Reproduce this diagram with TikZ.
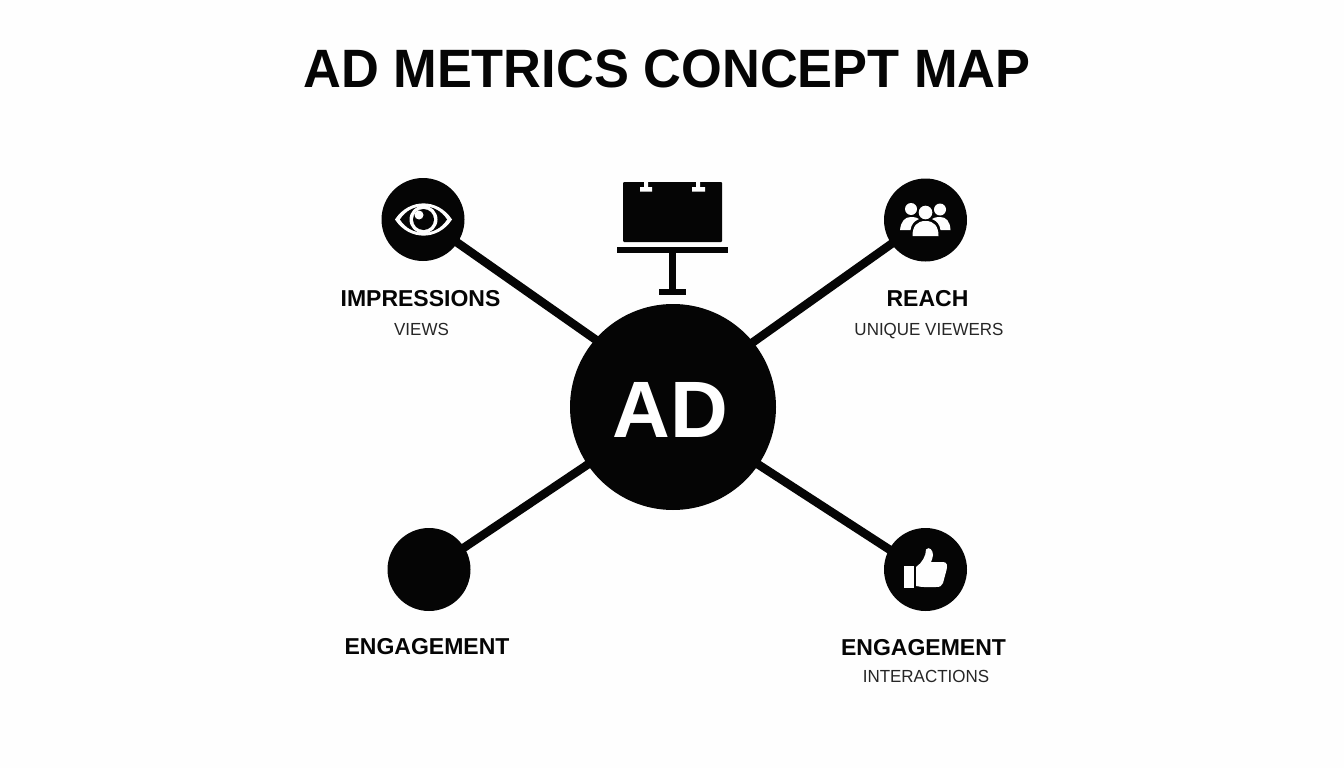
\documentclass[tikz,border=0pt]{standalone}
\usepackage{fontspec}
\setmainfont{Liberation Sans}
\newfontfamily\titlefont[FakeStretch=0.97]{Liberation Sans}
\definecolor{paper}{HTML}{FEFEFE}
\definecolor{ink}{HTML}{050505}
\definecolor{subink}{HTML}{262626}
\tikzset{
  hub/.style={circle,fill=ink,inner sep=0pt,minimum size=206pt},
  metric/.style={circle,fill=ink,inner sep=0pt,minimum size=83pt},
  link/.style={draw=ink,line width=8.5pt,shorten <=-2pt,shorten >=-2pt},
  head/.style={font=\bfseries\fontsize{23}{28}\selectfont,text=ink,inner sep=0pt,anchor=base},
  sub/.style={font=\titlefont\fontsize{17.5}{22}\selectfont,text=subink,inner sep=0pt,anchor=base},
  icon/.style={fill=paper,draw=none},
  solid ink/.style={fill=ink,draw=none}
}
\begin{document}
\begin{tikzpicture}[x=1pt,y=-1pt]
\useasboundingbox (0,0) rectangle (1344,768);
\fill[paper] (0,0) rectangle (1344,768);
\node[font=\titlefont\bfseries\fontsize{54}{60}\selectfont,text=ink,inner sep=0pt,anchor=base] (title) at (667,88) {AD METRICS CONCEPT MAP};
% hub and metric discs
\node[hub] (ad) at (673,407) {};
\node[metric] (imp) at (423,219.5) {};
\node[metric] (rch) at (925.5,220) {};
\node[metric] (eng) at (429,569.5) {};
\node[metric] (int) at (925.5,569.5) {};
\node[font=\bfseries\fontsize{80}{90}\selectfont,text=white,inner sep=0pt,anchor=base] (adtext) at (670.5,437) {AD};
% connectors
\draw[link] (imp.-34) -- (ad.139);
\draw[link] (rch.215) -- (ad.39);
\draw[link] (eng.32) -- (ad.214);
\draw[link] (int.151) -- (ad.-34);
% billboard
\fill[solid ink,rounded corners=1pt] (623,182) rectangle (722,242);
\fill[icon] (644,181) rectangle (648,188) (640,187) rectangle (652,191.5);
\fill[icon] (696,181) rectangle (700,188) (692,187) rectangle (705,191.5);
\fill[solid ink] (616.5,247) rectangle (728,252.5);
\fill[solid ink] (668.5,252) rectangle (676,290);
\fill[solid ink] (659,288.5) rectangle (686,294.5);
% eye
\fill[icon] (395,219.5) .. controls (409,198) and (438,198) .. (452,219.5) .. controls (438,241) and (409,241) .. (395,219.5) -- cycle;
\fill[solid ink] (400,219.5) .. controls (411,202) and (436,202) .. (447,219.5) .. controls (436,237) and (411,237) .. (400,219.5) -- cycle;
\fill[icon] (423.5,219.5) circle[radius=14];
\fill[solid ink] (423.5,219.5) circle[radius=10.5];
\fill[icon] (419,215) circle[radius=4.5];
% people
\fill[icon] (911,209) circle[radius=6];
\fill[icon] (940,209.5) circle[radius=6];
\fill[icon] (900,230) .. controls (901,221) and (905,217) .. (911,217) .. controls (915,217) and (918,218) .. (919,219) .. controls (914,221) and (911,225) .. (910.5,230) -- cycle;
\fill[icon] (950.5,230) .. controls (950,221) and (946,217) .. (940,217) .. controls (936,217) and (933,218) .. (932,219) .. controls (937,221) and (940,225) .. (940.5,230) -- cycle;
\fill[solid ink] (925.5,212.5) circle[radius=8.2];
\fill[icon] (925.5,212.5) circle[radius=6.8];
\fill[icon] (912.5,236) .. controls (912.5,226) and (917,221) .. (925.5,221) .. controls (934,221) and (938.5,226) .. (938.5,236) -- cycle;
% thumb
\fill[icon] (904,566) rectangle (913.5,588);
\fill[icon] (916,567) .. controls (922,563) and (926,556) .. (926,549.5) .. controls (929,546) and (933,550) .. (933,555) .. controls (933,558) and (931.5,560) .. (931,562) -- (943,562) .. controls (947.5,562) and (947.5,566) .. (946.5,570) -- (943,583) .. controls (942,586) and (940,587) .. (936,587) -- (924,587) .. controls (920,587) and (918,586) .. (916,586) -- cycle;
% labels
\node[head] (l1) at (420.5,306) {IMPRESSIONS};
\node[sub] (s1) at (421.5,335) {VIEWS};
\node[head] (l2) at (927.5,306) {REACH};
\node[sub] (s2) at (929,335) {UNIQUE VIEWERS};
\node[head] (l3) at (427,654) {ENGAGEMENT};
\node[head] (l4) at (923.5,655) {ENGAGEMENT};
\node[sub] (s4) at (926,682.5) {INTERACTIONS};
\end{tikzpicture}
\end{document}
